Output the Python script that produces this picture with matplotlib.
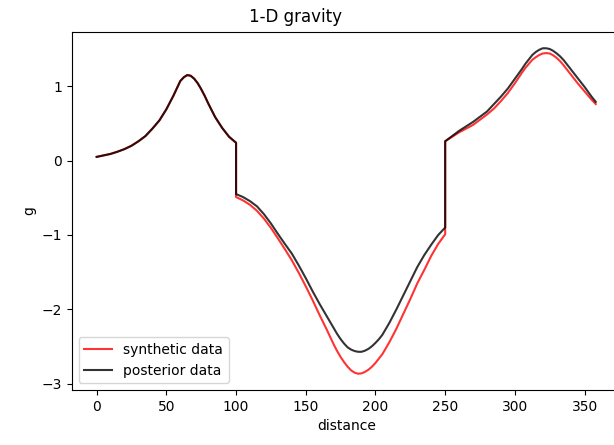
import matplotlib
matplotlib.use("Agg")
import matplotlib.pyplot as plt

# distance samples (duplicated at the two steps, finer near the peaks)
distance = [0, 5, 10, 15, 20, 25, 30, 35, 40, 45,
            50, 52.5, 55, 57.5, 60, 62.5, 65, 67.5, 70, 72.5, 75, 77.5, 80,
            85, 90, 95, 100,
            100, 105, 110, 115, 120, 125, 130, 135, 140, 145, 150, 155, 160, 165,
            170, 172.5, 175, 177.5, 180, 182.5, 185, 187.5, 190, 192.5, 195, 197.5,
            200, 202.5, 205, 207.5, 210,
            215, 220, 225, 230, 235, 240, 245, 250,
            250, 255, 260, 265, 270, 275, 280, 285, 290, 295, 300,
            305, 307.5, 310, 312.5, 315, 317.5, 320, 322.5, 325, 327.5, 330, 332.5,
            335, 337.5, 340,
            345, 350, 355, 358]

synthetic = [0.05, 0.07, 0.09, 0.12, 0.155, 0.20, 0.26, 0.33, 0.43, 0.54,
             0.69, 0.78, 0.87, 0.97, 1.07, 1.12, 1.15, 1.14, 1.10, 1.04, 0.96, 0.87, 0.77,
             0.585, 0.44, 0.32, 0.24,
             -0.49, -0.535, -0.595, -0.675, -0.78, -0.905, -1.045, -1.19, -1.34, -1.51,
             -1.69, -1.88, -2.08, -2.27,
             -2.47, -2.56, -2.64, -2.71, -2.77, -2.82, -2.85, -2.865, -2.86, -2.84, -2.81, -2.77,
             -2.72, -2.66, -2.60, -2.52, -2.44,
             -2.26, -2.06, -1.86, -1.65, -1.47, -1.28, -1.12, -0.99,
             0.26, 0.32, 0.38, 0.43, 0.48, 0.55, 0.62, 0.70, 0.80, 0.91, 1.04,
             1.18, 1.245, 1.30, 1.355, 1.39, 1.42, 1.44, 1.445, 1.44, 1.415, 1.38, 1.335,
             1.28, 1.22, 1.16,
             1.04, 0.93, 0.82, 0.76]

posterior = [0.05, 0.07, 0.09, 0.12, 0.155, 0.20, 0.26, 0.33, 0.43, 0.54,
             0.69, 0.78, 0.87, 0.97, 1.07, 1.12, 1.15, 1.14, 1.10, 1.04, 0.96, 0.87, 0.77,
             0.585, 0.44, 0.32, 0.24,
             -0.45, -0.49, -0.545, -0.615, -0.72, -0.845, -0.985, -1.12, -1.25, -1.41,
             -1.58, -1.76, -1.93, -2.09,
             -2.25, -2.33, -2.40, -2.46, -2.51, -2.54, -2.56, -2.57, -2.57, -2.555, -2.53, -2.495,
             -2.45, -2.40, -2.34, -2.26, -2.18,
             -2.00, -1.81, -1.62, -1.43, -1.27, -1.13, -1.00, -0.90,
             0.26, 0.33, 0.40, 0.46, 0.52, 0.59, 0.66, 0.76, 0.86, 0.97, 1.10,
             1.23, 1.30, 1.36, 1.42, 1.46, 1.49, 1.51, 1.51, 1.50, 1.475, 1.44, 1.40,
             1.35, 1.29, 1.23,
             1.11, 0.99, 0.86, 0.79]

fig = plt.figure(figsize=(6.14, 4.45), dpi=100)
ax = fig.add_axes([71.7 / 614, 55 / 445, 549 / 614, 358 / 445])

ax.plot(distance, synthetic, color='r', alpha=0.8, label='synthetic data')
ax.plot(distance, posterior, color='k', alpha=0.8, label='posterior data')
ax.set_xlabel('distance')
ax.set_ylabel('g')
ax.legend(loc='lower left')

fig.text(295.5 / 614, 1 - 17 / 445, '1-D gravity', ha='center', va='center', fontsize=12)

fig.savefig('out.png', dpi=100)
